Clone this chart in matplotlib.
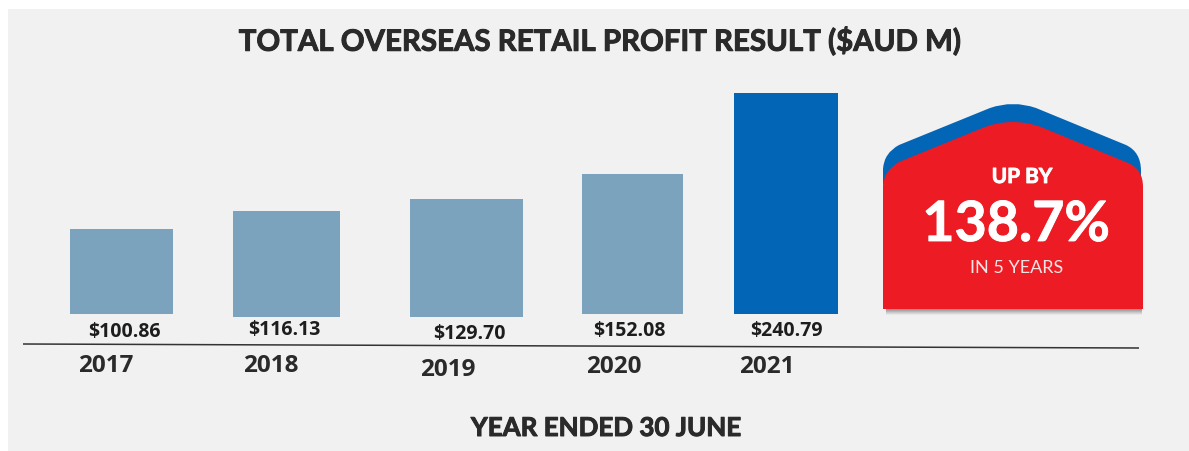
import matplotlib
matplotlib.use("Agg")
import matplotlib.pyplot as plt
import matplotlib.patheffects as pe
from matplotlib.path import Path
from matplotlib.patches import PathPatch, Rectangle

years = ["2017", "2018", "2019", "2020", "2021"]
profit_labels = ["$100.86", "$116.13", "$129.70", "$152.08", "$240.79"]
# the picture's bars are not strictly to scale: drawn tops and feet read from it, in $AUD M
drawn_tops = [92.6, 112.2, 125.3, 152.5, 240.79]
drawn_feet = [0.0, -3.3, -3.3, 0.0, 0.0]

bar_centres = [121.5, 286.5, 466.5, 632.5, 786.0]
bar_widths = [103, 107, 113, 101, 104]
bar_colours = ["#7ba3bd", "#7ba3bd", "#7ba3bd", "#7ba3bd", "#0365b5"]
label_pos = [(124, 332), (284, 330), (469, 334), (629, 331), (786, 331)]
year_pos = [(106, 366), (270.5, 366), (447.5, 370), (613.5, 367), (766.5, 367)]

W, H = 1189, 452
PX_PER_UNIT = 0.918
BASE_Y = 315
DARK = "#2a2a2a"
FONT = "Lato"

fig = plt.figure(figsize=(W / 100, H / 100), dpi=100, facecolor="white")

deco = fig.add_axes([0, 0, 1, 1], zorder=1)
deco.set_xlim(0, W)
deco.set_ylim(H, 0)
deco.axis("off")
deco.add_patch(Rectangle((8, 10), W - 8, H - 10, fc="#f1f1f1", ec="none"))

ax = fig.add_axes([0, 0, 1, 1], zorder=2)
ax.set_xlim(0, W)
ax.set_ylim(-(H - BASE_Y) / PX_PER_UNIT, BASE_Y / PX_PER_UNIT)
ax.axis("off")
ax.patch.set_alpha(0)
ax.bar(bar_centres,
       [t - f for t, f in zip(drawn_tops, drawn_feet)],
       bottom=drawn_feet, width=bar_widths, color=bar_colours, linewidth=0)

top = fig.add_axes([0, 0, 1, 1], zorder=3)
top.set_xlim(0, W)
top.set_ylim(H, 0)
top.axis("off")
top.patch.set_alpha(0)

top.plot([23, 1139], [345, 349], color="#333333", lw=1.1, solid_capstyle="butt")

heavy = [pe.withStroke(linewidth=0.7, foreground=DARK)]
white_heavy = [pe.withStroke(linewidth=0.6, foreground="white")]

top.text(599, 42.5, "TOTAL OVERSEAS RETAIL PROFIT RESULT ($AUD M)", ha="center", va="center",
         fontsize=21.2, fontweight="bold", family=FONT, color=DARK, path_effects=heavy)
top.text(606.5, 429, "YEAR ENDED 30 JUNE", ha="center", va="center",
         fontsize=18.7, fontweight="bold", family=FONT, color=DARK, path_effects=heavy)

for (x, y), s in zip(label_pos, profit_labels):
    top.text(x, y, s, ha="center", va="center", fontsize=14, fontweight="bold",
             family="Open Sans", color="#1d1d1d")
for (x, y), s in zip(year_pos, years):
    top.text(x, y, s, ha="center", va="center", fontsize=17.5, fontweight="bold",
             family="Open Sans", color=DARK)

C3, L, CL = Path.CURVE3, Path.LINETO, Path.CLOSEPOLY

# soft shadow below the badge
for grow, alpha in [(6, 0.06), (5, 0.08), (4, 0.10), (3, 0.12), (2, 0.14), (1, 0.16)]:
    top.add_patch(Rectangle((886, 290), 256, 20 + grow, fc="#404040", ec="none", alpha=alpha))

blue = Path(
    [(883, 185), (883, 170), (884, 154), (899, 146), (990, 109), (1013, 101), (1036, 109),
     (1126, 146), (1141, 153), (1141, 172), (1141, 185), (883, 185)],
    [Path.MOVETO, L, C3, C3, L, C3, C3, L, C3, C3, L, CL])
top.add_patch(PathPatch(blue, fc="#0365b5", ec="none"))

red = Path(
    [(883, 310), (883, 186), (884, 172), (899, 163), (985, 128), (1013, 118), (1041, 128),
     (1128, 164), (1143, 170), (1143, 188), (1143, 310), (883, 310)],
    [Path.MOVETO, L, C3, C3, L, C3, C3, L, C3, C3, L, CL])
top.add_patch(PathPatch(red, fc="#ed1c24", ec="none"))

top.text(1022, 178, "UP BY", ha="center", va="center", color="white",
         fontsize=15, fontweight="bold", family=FONT, path_effects=white_heavy)
top.text(1016, 226, "138.7%", ha="center", va="center", color="white",
         fontsize=40, fontweight="bold", family=FONT, path_effects=white_heavy)
top.text(1017, 268, "IN 5 YEARS", ha="center", va="center", color="#f6e4e4",
         fontsize=13, fontweight="normal", family=FONT)

fig.savefig("out.png", dpi=100)
